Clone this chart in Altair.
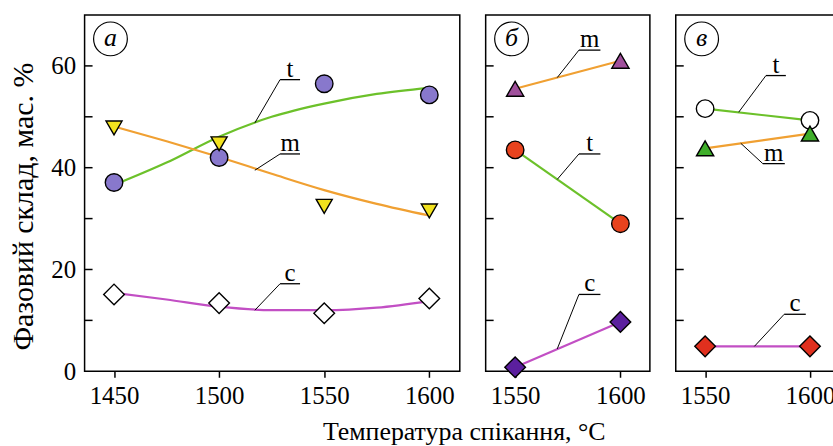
import altair as alt
import pandas as pd

# ---------------- data ----------------
series = ["t", "m", "c"]

# panel а
temps_a = [1450, 1500, 1550, 1600]
a_t = [37.1, 42.0, 56.5, 54.3]
a_m = [47.8, 44.7, 32.4, 31.5]
a_c = [15.1, 13.4, 11.4, 14.3]
curve_temps_a = [1450, 1475, 1500, 1525, 1550, 1575, 1600]
a_t_fit = [36.6, 41.0, 46.1, 50.0, 52.6, 54.5, 55.7]
a_m_fit = [48.1, 45.2, 42.1, 38.8, 35.6, 32.9, 30.6]
a_c_fit = [15.4, 14.1, 12.7, 12.0, 12.0, 12.5, 13.8]

# panel б
temps_b = [1550, 1600]
b_t = [43.5, 29.0]
b_m = [55.5, 61.0]
b_c = [0.8, 9.7]

# panel в
temps_v = [1550, 1600]
v_t = [51.6, 49.3]
v_m = [43.8, 46.7]
v_c = [4.9, 4.9]

x_tick_values = [1450, 1500, 1550, 1600]
y_label_values = [0, 20, 40, 60]
y_minor_ticks = [10, 20, 30, 40, 50, 60]

# ---------------- styles ----------------
FONT = "Liberation Serif"
line_colors = {"t": "#6cc12a", "m": "#f0a032", "c": "#c24fc4"}
marker_styles = {
    "а": {"t": ("circle", "#8878cc", 310), "m": ("triangle-down", "#f2e21e", 260), "c": ("diamond", "white", 430)},
    "б": {"t": ("circle", "#e8431e", 310), "m": ("triangle-up", "#a0509c", 300), "c": ("diamond", "#5b1f9e", 430)},
    "в": {"t": ("circle", "white", 310), "m": ("triangle-up", "#3fae2a", 300), "c": ("diamond", "#e0301e", 430)},
}

# annotation leaders: (series, x0, y0, x1, y1, underline_end)
ann = {
    "а": [("t", 1517, 48.8, 1529, 57.3, 1538.5),
          ("m", 1517, 39.5, 1529, 42.7, 1538.5),
          ("c", 1517, 12.0, 1529, 17.2, 1538.5)],
    "б": [("m", 1570, 57.7, 1580.3, 63.1, 1590.5),
          ("t", 1570, 37.7, 1580.3, 42.7, 1590.5),
          ("c", 1570, 4.4, 1580.3, 15.1, 1590.5)],
    "в": [("t", 1566, 50.9, 1579, 58.1, 1588.5),
          ("m", 1567, 44.8, 1577.5, 40.8, 1588),
          ("c", 1573.5, 4.9, 1587.7, 11.2, 1598)],
}


def build_panel(name, temps, vals, curve, domain, width, show_y):
    xs = alt.Scale(domain=domain, nice=False, zero=False)
    ys = alt.Scale(domain=[0, 70], nice=False, zero=False)
    xticks = [v for v in x_tick_values if domain[0] <= v <= domain[1]]
    xaxis = alt.Axis(values=xticks, format="d", title=None, labelPadding=6,
                     tickSize=6, labelFlush=False, labelFont=FONT, labelFontSize=25)
    if show_y:
        yaxis = alt.Axis(values=y_label_values, ticks=False, labelPadding=9,
                         labelFont=FONT, labelFontSize=25,
                         title="Фазовий склад, мас. %", titleFont=FONT,
                         titleFontSize=30, titleFontWeight="normal",
                         titleColor="black", titlePadding=12, titleY=192,
                         labelFlush=False)
    else:
        yaxis = None

    def X(f):
        return alt.X(f, scale=xs, axis=xaxis)

    def Y(f):
        return alt.Y(f, scale=ys, axis=yaxis)

    # markers
    rows = []
    for s in series:
        shp, fill, size = marker_styles[name][s]
        for tx, v in zip(temps, vals[s]):
            rows.append({"x": tx, "y": v, "s": s, "shape": shp, "fill": fill, "size": size})
    mdf = pd.DataFrame(rows)

    # lines
    lrows = []
    if curve is not None:
        ctemps, cvals = curve
        for s in series:
            for tx, v in zip(ctemps, cvals[s]):
                lrows.append({"x": tx, "y": v, "s": s})
    else:
        for s in series:
            for tx, v in zip(temps, vals[s]):
                lrows.append({"x": tx, "y": v, "s": s})
    ldf = pd.DataFrame(lrows)

    # annotations
    lead = pd.DataFrame([{"x": a[1], "y": a[2], "x2": a[3], "y2": a[4]} for a in ann[name]])
    under = pd.DataFrame([{"x": a[3], "x2": a[5], "y": a[4]} for a in ann[name]])
    txt = pd.DataFrame([{"x": (a[3] + a[5]) / 2, "y": a[4], "lab": a[0]} for a in ann[name]])

    ticks_df = pd.DataFrame({"v": y_minor_ticks})

    lines = alt.Chart(ldf).mark_line(strokeWidth=2.2, interpolate="monotone").encode(
        x=X("x:Q"), y=Y("y:Q"),
        color=alt.Color("s:N", scale=alt.Scale(domain=series,
                        range=[line_colors[s] for s in series]), legend=None),
    )
    leaders = alt.Chart(lead).mark_rule(color="black", strokeWidth=1).encode(
        x=X("x:Q"), y=Y("y:Q"), x2="x2:Q", y2="y2:Q")
    unders = alt.Chart(under).mark_rule(color="black", strokeWidth=1.3).encode(
        x=X("x:Q"), x2="x2:Q", y=Y("y:Q"))
    texts = alt.Chart(txt).mark_text(font=FONT, fontSize=25, baseline="alphabetic",
                                     dy=-3, color="black").encode(
        x=X("x:Q"), y=Y("y:Q"), text="lab:N")
    points = alt.Chart(mdf).mark_point(filled=True, stroke="black", strokeWidth=1.4,
                                       opacity=1).encode(
        x=X("x:Q"), y=Y("y:Q"),
        shape=alt.Shape("shape:N", scale=None),
        fill=alt.Fill("fill:N", scale=None),
        size=alt.Size("size:Q", scale=None),
    )
    yticks = alt.Chart(ticks_df).mark_rule(color="black", strokeWidth=1.5).encode(
        x=alt.value(0), x2=alt.value(8), y=Y("v:Q"))
    lab_df = pd.DataFrame({"lab": [name]})
    circ = alt.Chart(lab_df).mark_point(shape="circle", filled=False, stroke="black",
                                        strokeWidth=1.2, size=1150, opacity=1).encode(
        x=alt.value(26), y=alt.value(24))
    circ_t = alt.Chart(lab_df).mark_text(font=FONT, fontStyle="italic", fontSize=26,
                                         baseline="middle", color="black", dy=-1).encode(
        x=alt.value(26), y=alt.value(24), text="lab:N")

    return alt.layer(yticks, lines, leaders, unders, texts, points, circ, circ_t).properties(
        width=width, height=358)


pa = build_panel("а", temps_a, {"t": a_t, "m": a_m, "c": a_c},
                 (curve_temps_a, {"t": a_t_fit, "m": a_m_fit, "c": a_c_fit}),
                 [1436, 1614.5], 377, True)
pb = build_panel("б", temps_b, {"t": b_t, "m": b_m, "c": b_c}, None,
                 [1536, 1614], 165, False)
pv = build_panel("в", temps_v, {"t": v_t, "m": v_m, "c": v_c}, None,
                 [1536, 1620], 177, False)

chart = alt.hconcat(pa, pb, pv, spacing=23).properties(
    title=alt.TitleParams("Температура спікання, °C", orient="bottom", anchor="middle",
                          font=FONT, fontSize=26, fontWeight="normal", color="black",
                          offset=10, dx=34),
    padding={"left": 8, "top": 13, "right": -20, "bottom": 0},
    background="white",
).configure_view(stroke="black", strokeWidth=1.5).configure_axis(
    labelFont=FONT, labelFontSize=25, labelColor="black", domain=False,
    tickColor="black", tickWidth=1.5, grid=False,
)

chart.save("out.html", embed_options={"renderer": "svg", "actions": False})
